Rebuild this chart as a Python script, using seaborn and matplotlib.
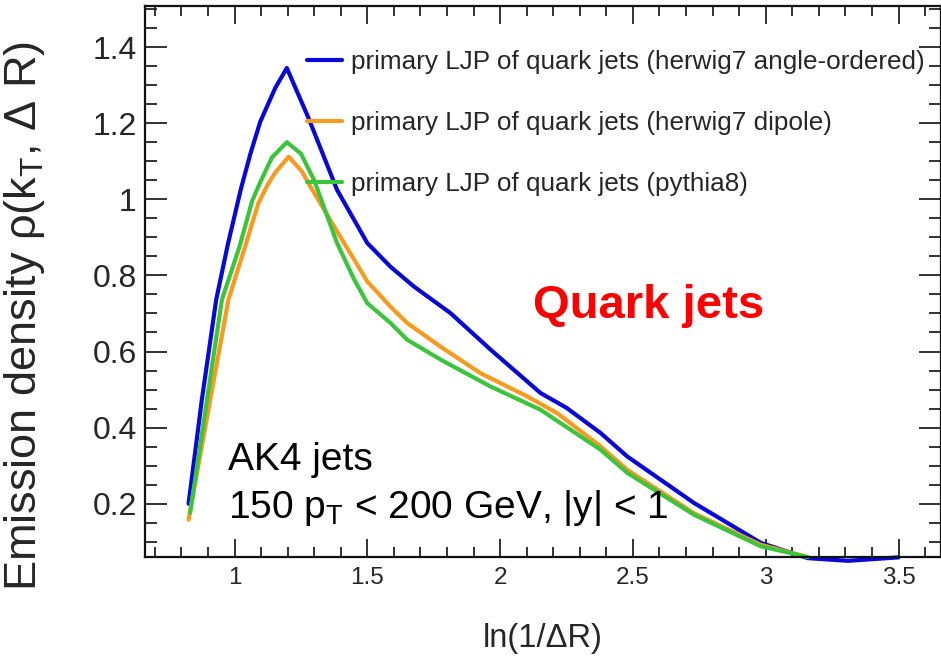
import numpy as np
import pandas as pd
import matplotlib
matplotlib.use("Agg")
import matplotlib.pyplot as plt
from matplotlib.ticker import MultipleLocator
import seaborn as sns

# Primary Lund-plane emission density vs ln(1/dR) for quark jets
x_ao = [0.827, 0.877, 0.931, 0.976, 1.025, 1.06, 1.097, 1.153, 1.197, 1.279,
        1.386, 1.50, 1.587, 1.675, 1.813, 1.964, 2.152, 2.25, 2.378, 2.479,
        2.73, 2.982, 3.158, 3.31, 3.50]
y_ao = [0.200, 0.473, 0.736, 0.885, 1.030, 1.120, 1.204, 1.292, 1.345, 1.213,
        1.025, 0.885, 0.823, 0.771, 0.701, 0.605, 0.491, 0.452, 0.386, 0.324,
        0.202, 0.097, 0.057, 0.050, 0.059]

x_dip = [0.827, 0.90, 0.977, 1.04, 1.09, 1.126, 1.153, 1.204, 1.254, 1.28,
         1.367, 1.50, 1.587, 1.65, 1.775, 1.926, 2.102, 2.215, 2.378, 2.479,
         2.73, 2.982, 3.158]
y_dip = [0.158, 0.44, 0.736, 0.876, 0.990, 1.040, 1.070, 1.112, 1.073, 1.040,
         0.938, 0.784, 0.718, 0.675, 0.613, 0.543, 0.482, 0.438, 0.351, 0.289,
         0.175, 0.092, 0.060]

x_py8 = [0.833, 0.893, 0.9525, 1.019, 1.066, 1.097, 1.141, 1.197, 1.25,
         1.30, 1.386, 1.45, 1.50, 1.587, 1.65, 1.775, 1.964, 2.152, 2.378,
         2.479, 2.73, 2.982, 3.158]
y_py8 = [0.176, 0.457, 0.736, 0.876, 0.995, 1.045, 1.110, 1.150, 1.120,
         1.050, 0.885, 0.790, 0.727, 0.675, 0.631, 0.579, 0.508, 0.447, 0.342,
         0.281, 0.171, 0.088, 0.060]

labels = ["primary LJP of quark jets (herwig7 angle-ordered)",
          "primary LJP of quark jets (herwig7 dipole)",
          "primary LJP of quark jets (pythia8)"]
colors = ["#0808d8", "#f79a1e", "#3cc43c"]

df = pd.concat([
    pd.DataFrame({"x": x_ao, "y": y_ao, "model": labels[0]}),
    pd.DataFrame({"x": x_dip, "y": y_dip, "model": labels[1]}),
    pd.DataFrame({"x": x_py8, "y": y_py8, "model": labels[2]}),
], ignore_index=True)

sns.set_style("ticks")
plt.rcParams["font.family"] = ["Liberation Sans", "DejaVu Sans"]
plt.rcParams["mathtext.fontset"] = "custom"
plt.rcParams["mathtext.rm"] = "Liberation Sans"
plt.rcParams["mathtext.it"] = "Liberation Sans"
plt.rcParams["mathtext.sf"] = "Liberation Sans"

fig = plt.figure(figsize=(9.41, 6.58), dpi=100)
ax = fig.add_axes([145 / 941, 101 / 658, 796 / 941, 551 / 658])

sns.lineplot(data=df, x="x", y="y", hue="model", palette=dict(zip(labels, colors)),
             sort=False, estimator=None, linewidth=3.0, ax=ax, legend=False)
for ln in ax.get_lines():
    ln.set_clip_on(False)
    ln.set_solid_joinstyle("round")

ax.set_xlim(0.663, 3.66)
ax.set_ylim(0.06, 1.508)

ax.xaxis.set_minor_locator(MultipleLocator(0.1))
ax.yaxis.set_minor_locator(MultipleLocator(0.05))
ax.set_xticks([1, 1.5, 2, 2.5, 3, 3.5])
ax.set_xticklabels(["1", "1.5", "2", "2.5", "3", "3.5"])
ax.set_yticks([0.2, 0.4, 0.6, 0.8, 1.0, 1.2, 1.4])
ax.set_yticklabels(["0.2", "0.4", "0.6", "0.8", "1", "1.2", "1.4"])

ax.tick_params(axis="both", which="both", direction="in", top=True, right=True,
               width=1.3, color="#222222")
ax.tick_params(axis="x", which="major", length=13, labelsize=17.5, pad=7)
ax.tick_params(axis="x", which="minor", length=7)
ax.tick_params(axis="y", which="major", length=16, labelsize=23, pad=6)
ax.tick_params(axis="y", which="minor", length=8.5)
for sp in ax.spines.values():
    sp.set_linewidth(1.6)
    sp.set_color("#111111")

ax.set_xlabel("ln(1/ΔR)", fontsize=23.5, labelpad=25)
ax.set_ylabel("Emission density ρ(k$_{\\mathregular{T}}$, Δ R)", fontsize=32.5)
ax.yaxis.set_label_coords(-0.123, 0.437)

handles = [plt.Line2D([], [], color=c, linewidth=3.0) for c in colors]
ax.legend(handles, labels, loc="upper left", bbox_to_anchor=(0.190, 0.939),
          frameon=False, fontsize=18.8, handlelength=1.37, handletextpad=0.34,
          labelspacing=1.42, borderaxespad=0)

ax.text(533 / 941, 1 - 318 / 658, "Quark jets", transform=fig.transFigure,
        color="#ff0000", fontsize=34, fontweight="bold", va="baseline")
ax.text(228 / 941, 1 - 470 / 658, "AK4 jets", transform=fig.transFigure,
        color="black", fontsize=28, va="baseline")
ax.text(228 / 941, 1 - 518 / 658, "150 p$_{\\mathregular{T}}$ < 200 GeV, |y| < 1",
        transform=fig.transFigure, color="black", fontsize=28, va="baseline")

fig.savefig("out.png", dpi=100)
